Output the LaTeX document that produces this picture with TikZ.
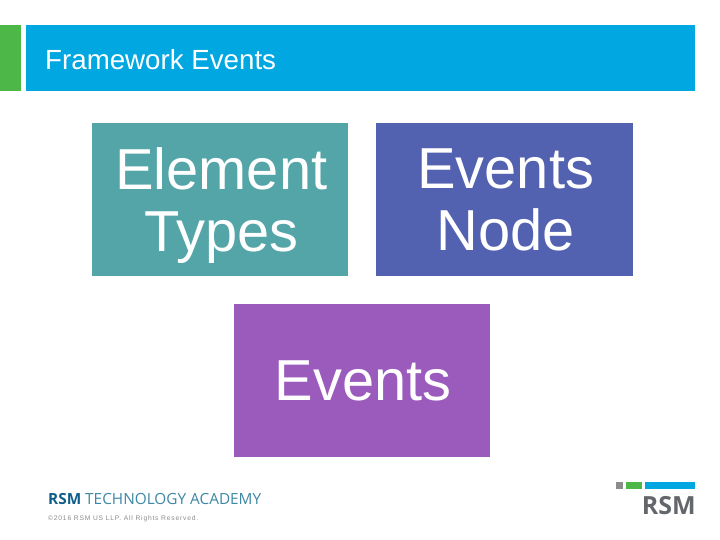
\documentclass[tikz,border=0pt]{standalone}
\usepackage{fontspec}
\setmainfont{Liberation Sans}
\newfontfamily\logofont{Open Sans}
\newfontfamily\spacedfont[LetterSpace=12]{Liberation Sans}
\definecolor{barblue}{HTML}{00A7E1}
\definecolor{bargreen}{HTML}{4DB848}
\definecolor{tealbox}{HTML}{53A5A8}
\definecolor{bluebox}{HTML}{5262B0}
\definecolor{purplebox}{HTML}{9B5BBD}
\definecolor{logogray}{HTML}{8A8C8E}
\definecolor{logodark}{HTML}{63666A}
\definecolor{logonavy}{HTML}{0F5F8C}
\definecolor{logoteal}{HTML}{3F87A6}
\newcommand{\nudgeline}{\hspace*{2.5pt}}
\tikzset{
  block/.style={fill=#1,draw=none,inner sep=0pt,outer sep=0pt,anchor=north west},
  bigbox/.style={block=#1,text=white,align=center,font=\fontsize{57.8}{62}\selectfont},
}
\begin{document}
\begin{tikzpicture}[x=1pt,y=-1pt]
\useasboundingbox (0,0) rectangle (720,540);
\fill[white] (0,0) rectangle (720,540);
\node[block=bargreen,minimum width=21pt,minimum height=66pt] (sidebar) at (0,25) {};
\node[block=barblue,minimum width=669pt,minimum height=66pt] (titlebar) at (26,25) {};
\node[anchor=base west,inner sep=0pt,text=white,font=\fontsize{27.7}{30}\selectfont] (title) at (45,69.5) {Framework Events};
\node[bigbox=tealbox,minimum width=256pt,minimum height=153pt] (types) at (92,123) {\nudgeline Element\\\nudgeline\raisebox{0pt}[\height][0pt]{Types}};
\node[bigbox=bluebox,minimum width=257pt,minimum height=153pt] (node) at (376,123) {\nudgeline Events\\\nudgeline Node};
\node[bigbox=purplebox,minimum width=256pt,minimum height=153pt] (events) at (234,304) {\nudgeline Events};
\node[anchor=base west,inner sep=0pt,font=\logofont\fontsize{15.35}{17}\selectfont,text=logoteal] (academy) at (48,504) {\textcolor{logonavy}{\bfseries RSM} TECHNOLOGY ACADEMY};
\node[anchor=base west,inner sep=0pt,font=\spacedfont\fontsize{6.7}{8}\selectfont,text=logogray] (copyright) at (48,520.5) {©2016 RSM US LLP. All Rights Reserved.};
\node[block=logogray,minimum width=7pt,minimum height=7pt] (sqgray) at (616,482) {};
\node[block=bargreen,minimum width=15.5pt,minimum height=7pt] (sqgreen) at (626,482) {};
\node[block=barblue,minimum width=50pt,minimum height=7pt] (sqblue) at (645,482) {};
\node[anchor=base east,inner sep=0pt,font=\logofont\bfseries\fontsize{25}{27}\selectfont,text=logodark] (rsm) at (696,514) {RSM};
\end{tikzpicture}
\end{document}
